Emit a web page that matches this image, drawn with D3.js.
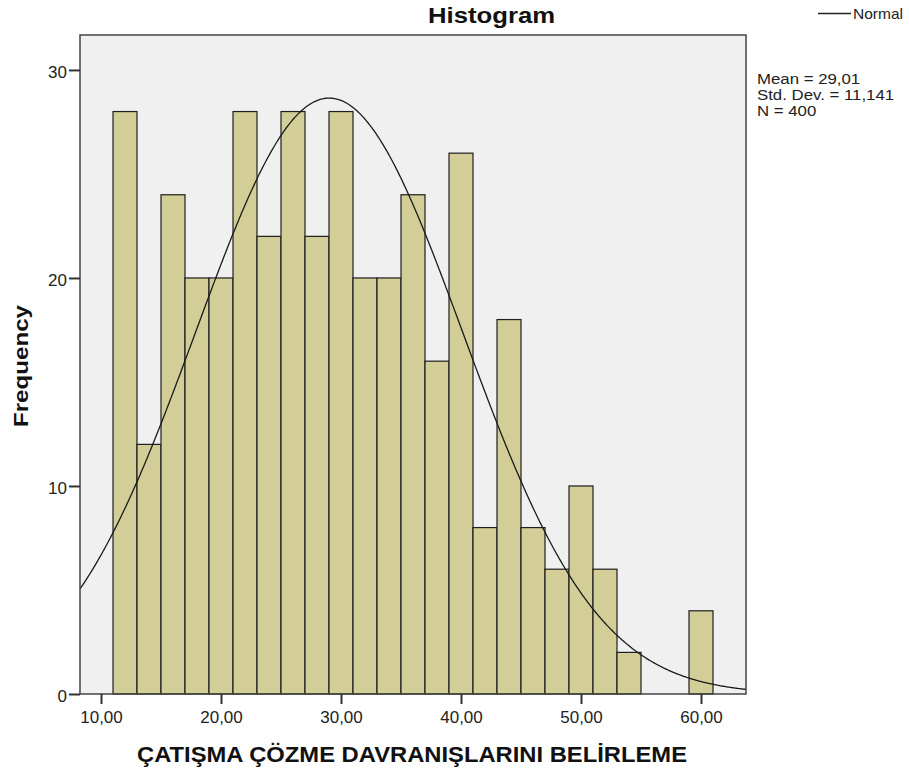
<!DOCTYPE html>
<html>
<head>
<meta charset="utf-8">
<script src="https://cdn.jsdelivr.net/npm/d3@7"></script>
<style>
  html, body { margin: 0; padding: 0; background: #ffffff; }
  svg text { font-family: "Liberation Sans", Arial, sans-serif; }
</style>
</head>
<body>
<svg id="chart" width="909" height="776"></svg>
<script>
// Bin centres (width 2) and frequencies
const binCenters = [12, 14, 16, 18, 20, 22, 24, 26, 28, 30, 32, 34, 36, 38, 40, 42, 44, 46, 48, 50, 52, 54, 56, 58, 60];
const frequencies = [28, 12, 24, 20, 20, 28, 22, 28, 22, 28, 20, 20, 24, 16, 26, 8, 18, 8, 6, 10, 6, 2, 0, 0, 4];
const binWidth = 2;
const xTicks = [10, 20, 30, 40, 50, 60];
const yTicks = [0, 10, 20, 30];
const mean = 29.01;
const stdDev = 11.141;
const nCases = 400;
const statsLines = ["Mean = 29,01", "Std. Dev. = 11,141", "N = 400"];

const svg = d3.select("#chart");
const plot = { left: 80, right: 746, top: 35, bottom: 694 };

const x = d3.scaleLinear().domain([8.25, 63.75]).range([plot.left, plot.right]);
const y = d3.scaleLinear().domain([0, 31.68]).range([plot.bottom, plot.top]);

// Plot area background
svg.append("rect")
  .attr("x", plot.left).attr("y", plot.top)
  .attr("width", plot.right - plot.left).attr("height", plot.bottom - plot.top)
  .attr("fill", "#f0f0f0");

svg.append("clipPath").attr("id", "clip")
  .append("rect")
  .attr("x", plot.left).attr("y", plot.top)
  .attr("width", plot.right - plot.left).attr("height", plot.bottom - plot.top);

// Bars
svg.append("g")
  .selectAll("rect")
  .data(binCenters.map((c, i) => ({ c, f: frequencies[i] })).filter(d => d.f > 0))
  .join("rect")
  .attr("x", d => x(d.c - binWidth / 2))
  .attr("y", d => y(d.f))
  .attr("width", d => x(d.c + binWidth / 2) - x(d.c - binWidth / 2))
  .attr("height", d => y(0) - y(d.f))
  .attr("fill", "#d3ce97")
  .attr("stroke", "#1e1e1e")
  .attr("stroke-width", 1.2);

// Normal curve scaled to counts
const pdf = v => Math.exp(-0.5 * Math.pow((v - mean) / stdDev, 2)) / (stdDev * Math.sqrt(2 * Math.PI));
const curvePts = d3.range(8.25, 63.76, 0.1).map(v => [v, nCases * binWidth * pdf(v)]);
svg.append("path")
  .attr("clip-path", "url(#clip)")
  .attr("d", d3.line().x(d => x(d[0])).y(d => y(d[1]))(curvePts))
  .attr("fill", "none")
  .attr("stroke", "#1a1a1a")
  .attr("stroke-width", 1.3);

// Frame
svg.append("rect")
  .attr("x", plot.left).attr("y", plot.top)
  .attr("width", plot.right - plot.left).attr("height", plot.bottom - plot.top)
  .attr("fill", "none")
  .attr("stroke", "#444")
  .attr("stroke-width", 1.5);

// Axes
const xAxis = svg.append("g")
  .attr("transform", `translate(0,${plot.bottom})`)
  .call(d3.axisBottom(x).tickValues(xTicks).tickSize(10).tickPadding(7)
    .tickFormat(d => d3.format(".2f")(d).replace(".", ",")));
const yAxis = svg.append("g")
  .attr("transform", `translate(${plot.left},0)`)
  .call(d3.axisLeft(y).tickValues(yTicks).tickSize(11).tickPadding(2));

[xAxis, yAxis].forEach(g => {
  g.select(".domain").remove();
  g.selectAll(".tick line").attr("stroke", "#333").attr("stroke-width", 2);
  g.selectAll(".tick text")
    .attr("fill", "#222")
    .style("font-size", "17px")
    .style("font-family", "'Liberation Sans', Arial, sans-serif");
});
yAxis.selectAll(".tick text").attr("dy", "0.45em");

// Title
svg.append("text")
  .attr("x", 428).attr("y", 23)
  .attr("textLength", 127).attr("lengthAdjust", "spacingAndGlyphs")
  .style("font-size", "22px").style("font-weight", "bold")
  .attr("fill", "#111")
  .text("Histogram");

// Axis titles
svg.append("text")
  .attr("x", 137).attr("y", 762)
  .attr("textLength", 550).attr("lengthAdjust", "spacingAndGlyphs")
  .style("font-size", "22px").style("font-weight", "bold")
  .attr("fill", "#111")
  .text("ÇATIŞMA ÇÖZME DAVRANIŞLARINI BELİRLEME");

svg.append("text")
  .attr("transform", "translate(28,427) rotate(-90)")
  .attr("textLength", 122).attr("lengthAdjust", "spacingAndGlyphs")
  .style("font-size", "21px").style("font-weight", "bold")
  .attr("fill", "#111")
  .text("Frequency");

// Legend
svg.append("line")
  .attr("x1", 818).attr("x2", 851).attr("y1", 13.5).attr("y2", 13.5)
  .attr("stroke", "#222").attr("stroke-width", 1.3);
svg.append("text")
  .attr("x", 853).attr("y", 19)
  .attr("textLength", 50).attr("lengthAdjust", "spacingAndGlyphs")
  .style("font-size", "15px").attr("fill", "#222")
  .text("Normal");

// Summary statistics (slightly widened glyphs, tight line spacing)
svg.append("g").selectAll("text")
  .data(statsLines)
  .join("text")
  .attr("x", 757)
  .attr("y", (d, i) => 84 + i * 16.2)
  .style("font-size", "14px").attr("fill", "#222")
  .text(d => d)
  .each(function () {
    const w = this.getComputedTextLength();
    d3.select(this).attr("textLength", w * 1.2).attr("lengthAdjust", "spacingAndGlyphs");
  });
</script>
</body>
</html>
